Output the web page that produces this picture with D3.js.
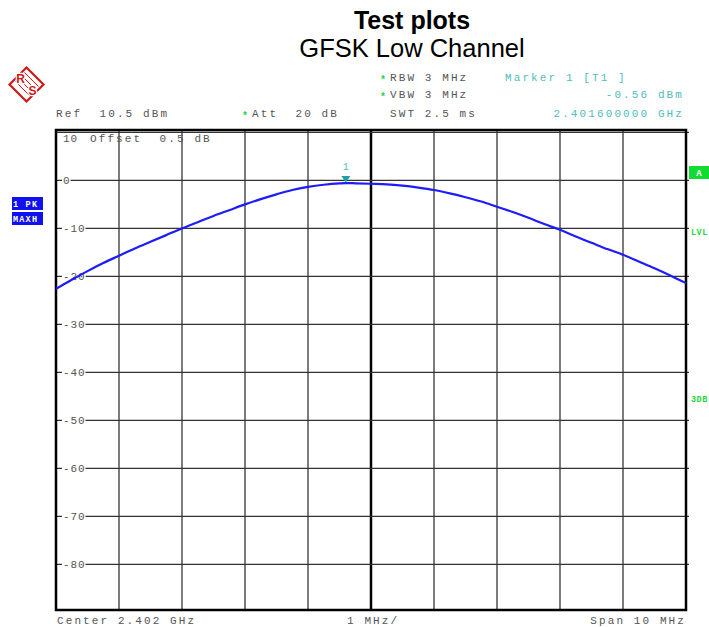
<!DOCTYPE html>
<html>
<head>
<meta charset="utf-8">
<script src="https://cdn.jsdelivr.net/npm/d3@7"></script>
<style>
  html, body { margin: 0; padding: 0; background: #fff; }
  svg { display: block; }
  svg text { white-space: pre; }
</style>
</head>
<body>
<svg id="chart" width="709" height="627"></svg>
<script>
// Sweep trace: frequency (GHz) and max-hold level (dBm)
const freqGHz = [
  2.39700, 2.39725, 2.39750, 2.39775, 2.39800, 2.39825, 2.39850, 2.39875, 2.39900, 2.39925,
  2.39950, 2.39975, 2.40000, 2.40025, 2.40050, 2.40075, 2.40100, 2.40125, 2.40150, 2.40160,
  2.40175, 2.40200, 2.40225, 2.40250, 2.40275, 2.40300, 2.40325, 2.40350, 2.40375, 2.40400,
  2.40425, 2.40450, 2.40475, 2.40500, 2.40525, 2.40550, 2.40575, 2.40600, 2.40625, 2.40650,
  2.40675, 2.40700
];
const levelDbm = [
  -22.6, -20.7, -18.9, -17.2, -15.7, -14.2, -12.8, -11.4, -10.0, -8.7,
  -7.4, -6.2, -5.0, -3.9, -2.9, -2.0, -1.35, -0.9, -0.62, -0.56,
  -0.6, -0.7, -0.82, -1.1, -1.5, -2.0, -2.7, -3.5, -4.4, -5.5,
  -6.6, -7.8, -9.1, -10.3, -11.7, -13.0, -14.3, -15.5, -16.9, -18.3,
  -19.8, -21.4
];

// Marker 1
const markerFreqGHz = 2.4016;
const markerLevelDbm = -0.56;

// Display settings
const refLevelDbm = 10.5;
const rangeDb = 100;
const centerGHz = 2.402;
const spanGHz = 0.010;
const levelTicks = [10, 0, -10, -20, -30, -40, -50, -60, -70, -80];
const freqTicks = d3.range(11).map(i => centerGHz - spanGHz / 2 + i * spanGHz / 10);

const headerLeft = ["Ref  10.5 dBm", "Att  20 dB"];
const settingsLabels = ["RBW 3 MHz", "VBW 3 MHz", "SWT 2.5 ms"];
const markerLabels = ["Marker 1 [T1 ]", "-0.56 dBm", "2.401600000 GHz"];
const footerLabels = ["Center 2.402 GHz", "1 MHz/", "Span 10 MHz"];

const svg = d3.select("#chart");
const MONO = '"Liberation Mono", "DejaVu Sans Mono", monospace';
const SANS = '"Liberation Sans", Arial, sans-serif';
const TEXT_GRAY = "#555";
const TEAL = "#4fbcbc";
const GREEN = "#1fd63c";
const BLUE = "#1c1cff";

const plot = { left: 56, right: 686, top: 130, bottom: 610 };

const x = d3.scaleLinear()
  .domain([centerGHz - spanGHz / 2, centerGHz + spanGHz / 2])
  .range([plot.left, plot.right]);
const y = d3.scaleLinear()
  .domain([refLevelDbm, refLevelDbm - rangeDb])
  .range([plot.top, plot.bottom]);

// Titles
svg.append("text").attr("x", 412).attr("y", 29).attr("text-anchor", "middle")
  .attr("font-family", SANS).attr("font-weight", "bold").attr("font-size", 25)
  .attr("fill", "#000").text("Test plots");
svg.append("text").attr("x", 412).attr("y", 57).attr("text-anchor", "middle")
  .attr("font-family", SANS).attr("font-size", 25.5)
  .attr("fill", "#000").text("GFSK Low Channel");

// R&S logo
const logo = svg.append("g").attr("transform", "translate(26.5,84.5)");
logo.append("path").attr("d", "M0,-17 L17,0 L0,17 L-17,0 Z")
  .attr("fill", "none").attr("stroke", "#d01818").attr("stroke-width", 2.2);
logo.append("path").attr("d", "M-2,-12 L12,2 M-5,-9 L9,5 M-8,-6 L6,8 M-11,-3 L3,11")
  .attr("stroke", "#d01818").attr("stroke-width", 1);
logo.append("text").attr("x", -6).attr("y", -2).attr("text-anchor", "middle")
  .attr("font-family", SANS).attr("font-weight", "bold").attr("font-size", 12)
  .attr("fill", "#d01818").attr("stroke", "#fff").attr("stroke-width", 2.5)
  .attr("paint-order", "stroke").text("R");
logo.append("text").attr("x", 6).attr("y", 10).attr("text-anchor", "middle")
  .attr("font-family", SANS).attr("font-weight", "bold").attr("font-size", 12)
  .attr("fill", "#d01818").attr("stroke", "#fff").attr("stroke-width", 2.5)
  .attr("paint-order", "stroke").text("S");

function monoText(xp, yp, str, opts = {}) {
  return svg.append("text")
    .attr("x", xp).attr("y", yp)
    .attr("font-family", MONO)
    .attr("font-size", opts.size || 11)
    .attr("letter-spacing", opts.ls != null ? opts.ls : 2.1)
    .attr("text-anchor", opts.anchor || "start")
    .attr("fill", opts.fill || TEXT_GRAY)
    .attr("font-weight", opts.weight || "normal")
    .text(str);
}
function star(xp, yp) {
  svg.append("text").attr("x", xp).attr("y", yp)
    .attr("font-family", MONO).attr("font-size", 10).attr("font-weight", "bold")
    .attr("fill", GREEN).text("*");
}

// Header block
monoText(56, 117, headerLeft[0]);
star(242, 119); monoText(252, 117, headerLeft[1]);
star(380, 83); monoText(390, 81, settingsLabels[0]);
star(380, 100); monoText(390, 98, settingsLabels[1]);
monoText(390, 117, settingsLabels[2]);
monoText(505, 81, markerLabels[0], { fill: TEAL });
monoText(684, 98, markerLabels[1], { fill: TEAL, anchor: "end" });
monoText(684, 117, markerLabels[2], { fill: TEAL, anchor: "end" });

// Grid
const grid = svg.append("g");
grid.selectAll("line.v").data(freqTicks.slice(1, -1)).join("line")
  .attr("x1", d => x(d)).attr("x2", d => x(d))
  .attr("y1", plot.top).attr("y2", plot.bottom)
  .attr("stroke", (d, i) => i === 4 ? "#000" : "#444")
  .attr("stroke-width", (d, i) => i === 4 ? 2.5 : 1.4);
grid.selectAll("line.h").data(levelTicks).join("line")
  .attr("x1", plot.left).attr("x2", plot.right + 3)
  .attr("y1", d => y(d)).attr("y2", d => y(d))
  .attr("stroke", "#333").attr("stroke-width", 1.4);

// Level labels sit in a gap cut into each gridline
const lbl = svg.append("g");
levelTicks.slice(1).forEach(v => {
  const t = lbl.append("text").attr("x", 63).attr("y", y(v)).attr("dy", "0.35em")
    .attr("font-family", MONO).attr("font-size", 11).attr("letter-spacing", 0.9)
    .attr("fill", TEXT_GRAY).text(v === 0 ? "0" : String(v));
  const bb = t.node().getBBox();
  lbl.insert("rect", () => t.node())
    .attr("x", 62).attr("y", y(v) - 2).attr("width", bb.width + 1).attr("height", 4)
    .attr("fill", "#fff");
});
lbl.append("text").attr("x", 63).attr("y", 142)
  .attr("font-family", MONO).attr("font-size", 11).attr("letter-spacing", 0.9)
  .attr("fill", TEXT_GRAY).text("10");
monoText(90, 142, "Offset  0.5 dB");

// Frame
svg.append("rect")
  .attr("x", plot.left).attr("y", plot.top)
  .attr("width", plot.right - plot.left).attr("height", plot.bottom - plot.top)
  .attr("fill", "none").attr("stroke", "#000").attr("stroke-width", 2.5);

// Trace
const line = d3.line()
  .x(d => x(d[0])).y(d => y(d[1]))
  .curve(d3.curveMonotoneX);
svg.append("path")
  .datum(d3.zip(freqGHz, levelDbm))
  .attr("d", line)
  .attr("fill", "none").attr("stroke", BLUE).attr("stroke-width", 2.2);

// Marker
const mx = x(markerFreqGHz), my = y(markerLevelDbm);
svg.append("path")
  .attr("d", `M${mx - 4.5},${my - 7} L${mx + 4.5},${my - 7} L${mx},${my - 0.5} Z`)
  .attr("fill", "#1aa0a0");
svg.append("text").attr("x", mx).attr("y", my - 13).attr("text-anchor", "middle")
  .attr("font-family", MONO).attr("font-size", 10).attr("fill", TEAL).text("1");

// Trace info boxes (left)
[["1 PK", 197], ["MAXH", 212]].forEach(([s, top]) => {
  svg.append("rect").attr("x", 12).attr("y", top).attr("width", 31).attr("height", 13)
    .attr("fill", "#1010f0");
  svg.append("text").attr("x", 13).attr("y", top + 9.5)
    .attr("font-family", MONO).attr("font-size", 8.5).attr("font-weight", "bold")
    .attr("letter-spacing", 1.2).attr("fill", "#fff").text(s);
});

// Status indicators (right)
svg.append("rect").attr("x", 689).attr("y", 166).attr("width", 20).attr("height", 13)
  .attr("fill", "#10dd30");
svg.append("text").attr("x", 699).attr("y", 176).attr("text-anchor", "middle")
  .attr("font-family", MONO).attr("font-size", 9).attr("font-weight", "bold")
  .attr("fill", "#fff").text("A");
svg.append("text").attr("x", 691).attr("y", 235)
  .attr("font-family", MONO).attr("font-size", 8.5).attr("font-weight", "bold")
  .attr("letter-spacing", 0.5).attr("fill", GREEN).text("LVL");
svg.append("text").attr("x", 691).attr("y", 402)
  .attr("font-family", MONO).attr("font-size", 8.5).attr("font-weight", "bold")
  .attr("letter-spacing", 0.5).attr("fill", GREEN).text("3DB");

// Footer
monoText(57, 624, footerLabels[0]);
monoText(347, 624, footerLabels[1]);
monoText(686, 624, footerLabels[2], { anchor: "end" });
</script>
</body>
</html>
